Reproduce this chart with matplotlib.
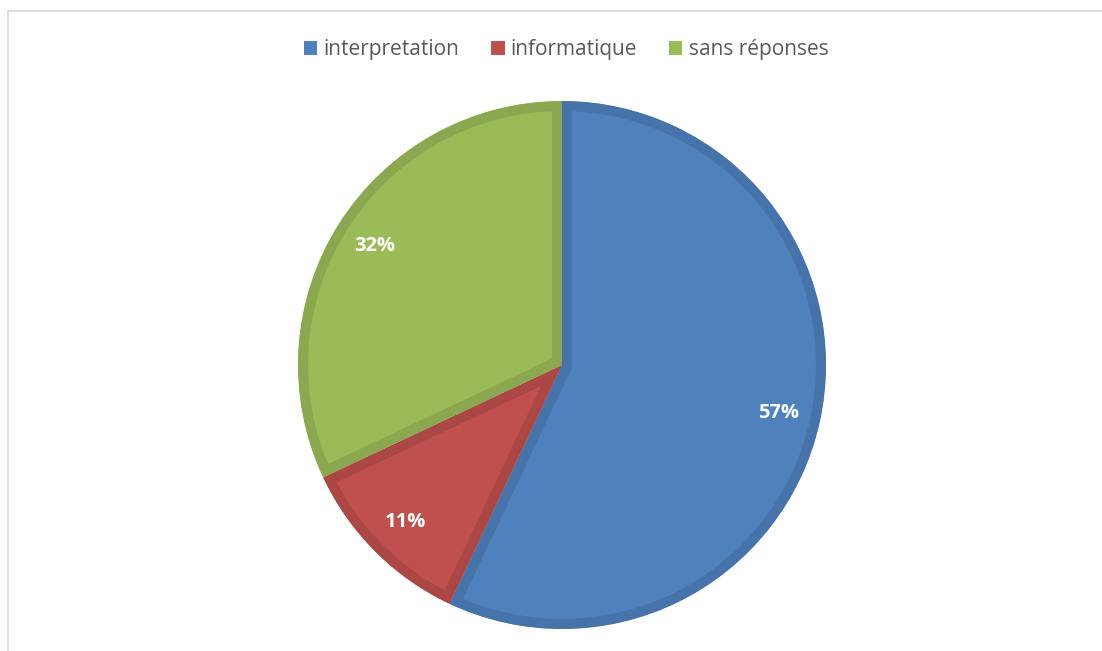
import matplotlib
matplotlib.use("Agg")
import matplotlib.pyplot as plt
from matplotlib.patches import Rectangle

categories = ['interpretation', 'informatique', 'sans réponses']
values = [57, 11, 32]
colors = ['#4F81BD', '#C0504D', '#9BBB59']
edge_colors = ['#4674AA', '#AB4744', '#8BA850']

W, H = 1102, 651
fig = plt.figure(figsize=(W / 100, H / 100), dpi=100)

# light grey chart-area frame
fig.patches.append(Rectangle((8 / W, -0.1), 1.2, (H - 11) / H + 0.1,
                             transform=fig.transFigure, fill=False,
                             edgecolor='#D9D9D9', linewidth=1.2))

cx, cy, r = 562, H - 365, 264
ax = fig.add_axes([(cx - r) / W, (cy - r) / H, 2 * r / W, 2 * r / H])

wedges, texts, autotexts = ax.pie(
    values, colors=colors, startangle=90, counterclock=False,
    autopct='%1.0f%%', pctdistance=0.84, radius=1.0,
    textprops=dict(color='white', fontsize=14.5, fontweight='bold',
                   family=['Open Sans', 'DejaVu Sans']))

# darker inner rim on each slice (stroke clipped to the slice itself)
for w, ec in zip(wedges, edge_colors):
    w.set_edgecolor(ec)
    w.set_linewidth(14.5)
    w.set_joinstyle('miter')
    w.set_clip_on(True)
    w.set_clip_path(w)

ax.set_xlim(-1, 1)
ax.set_ylim(-1, 1)
ax.set_aspect('equal')

leg = fig.legend(wedges, categories, loc='center', bbox_to_anchor=(566 / W, 1 - 50 / H),
                 ncol=3, frameon=False, handlelength=0.66, handleheight=0.66,
                 handletextpad=0.3, columnspacing=1.5,
                 prop=dict(family=['Open Sans', 'DejaVu Sans'], size=15))
for t in leg.get_texts():
    t.set_color('#595959')
for h, c in zip(leg.legend_handles, colors):
    h.set_edgecolor(c)
    h.set_linewidth(0)

fig.savefig('out.png', dpi=100)
